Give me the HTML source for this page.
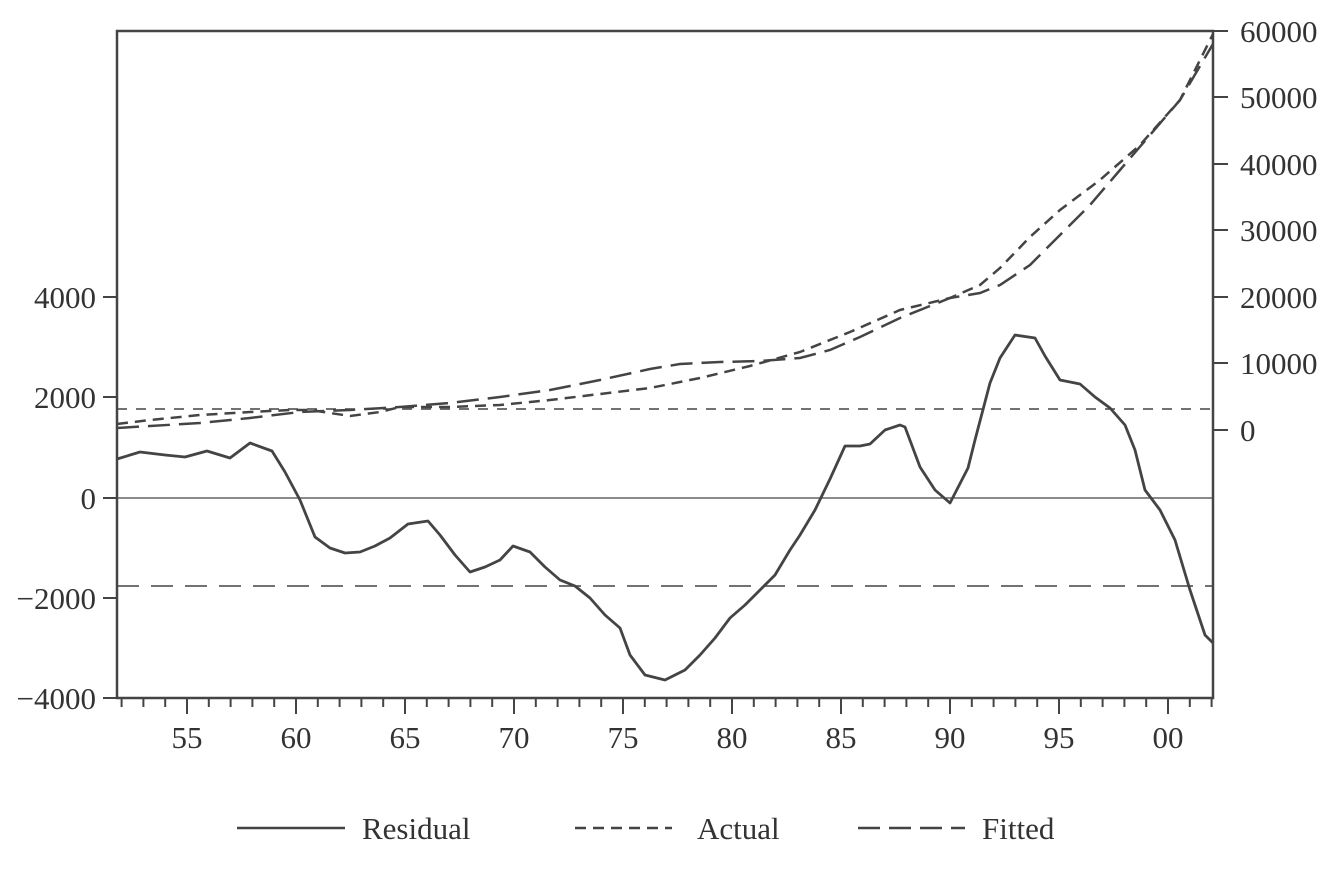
<!DOCTYPE html>
<html><head><meta charset="utf-8"><style>
html,body{margin:0;padding:0;background:#fff}
svg text{font-family:"Liberation Serif",serif;font-size:31px;fill:#333}
</style></head><body>
<svg width="1332" height="875" viewBox="0 0 1332 875" xmlns="http://www.w3.org/2000/svg">
<g stroke="#444" fill="none">
<rect x="117" y="31" width="1096" height="667" stroke-width="2.5"/>
<line x1="117" y1="498" x2="1213" y2="498" stroke-width="1.3"/>
<line x1="117" y1="409" x2="1213" y2="409" stroke-width="1.5" stroke-dasharray="10,9"/>
<line x1="117" y1="586" x2="1213" y2="586" stroke-width="1.5" stroke-dasharray="22,12"/>
<path d="M103 297H117M103 397H117M103 498H117M103 598H117M103 698H117" stroke-width="2"/>
<path d="M1213 31H1228M1213 97H1228M1213 164H1228M1213 230H1228M1213 297H1228M1213 363H1228M1213 430H1228" stroke-width="2"/>
<path stroke-width="2" d="M121.6 698v9M143.4 698v9M165.2 698v9M187 698v16M208.8 698v9M230.6 698v9M252.4 698v9M274.2 698v9M296 698v16M317.8 698v9M339.6 698v9M361.4 698v9M383.2 698v9M405 698v16M426.8 698v9M448.6 698v9M470.4 698v9M492.2 698v9M514 698v16M535.8 698v9M557.6 698v9M579.4 698v9M601.2 698v9M623 698v16M644.8 698v9M666.6 698v9M688.4 698v9M710.2 698v9M732 698v16M753.8 698v9M775.6 698v9M797.4 698v9M819.2 698v9M841 698v16M862.8 698v9M884.6 698v9M906.4 698v9M928.2 698v9M950 698v16M971.8 698v9M993.6 698v9M1015.4 698v9M1037.2 698v9M1059 698v16M1080.8 698v9M1102.6 698v9M1124.4 698v9M1146.2 698v9M1168 698v16M1189.8 698v9M1211.6 698v9"/>
<polyline stroke-width="2.5" stroke-dasharray="11,7" points="117,424 150,420 200,415 250,412 290,410 310,410 330,413 350,416 380,412 400,407 450,407 500,405 550,400 600,394 650,388 700,378 750,366 800,352 850,332 900,310 950,298 980,285 1000,268 1030,237 1060,210 1100,180 1140,145 1180,100 1213,34"/>
<polyline stroke-width="2.5" stroke-dasharray="22,9" points="117,428 200,423 250,418 300,412 350,410 400,407 450,403 500,397 550,390 600,380 650,369 680,364 720,362 760,361 800,358 830,350 860,337 900,318 950,298 980,293 1000,285 1030,265 1060,235 1090,205 1120,170 1150,135 1180,100 1213,44"/>
<polyline stroke-width="2.8" stroke-linejoin="round" points="117,459 140,452 165,455 185,457 207,451 230,458 250,443 272,451 285,472 300,500 315,537 330,548 345,553 360,552 375,546 390,538 408,524 428,521 440,535 455,555 470,572 485,567 500,560 513,546 530,552 545,567 560,580 575,586 590,598 605,615 620,628 630,655 645,675 665,680 685,670 700,655 715,638 730,618 745,605 760,590 775,575 790,550 800,535 815,510 830,479 845,446 860,446 870,444 885,430 900,425 905,427 920,467 935,490 950,503 968,468 975,440 990,383 1000,358 1015,335 1035,338 1045,356 1060,380 1080,384 1095,397 1110,408 1125,425 1135,450 1145,490 1160,510 1175,540 1190,590 1205,635 1213,643"/>
<line x1="237" y1="828" x2="345" y2="828" stroke-width="2.5"/>
<line x1="575" y1="828" x2="672" y2="828" stroke-width="2.5" stroke-dasharray="11,7"/>
<line x1="858" y1="828" x2="965" y2="828" stroke-width="2.5" stroke-dasharray="22,9"/>
</g>
<g text-anchor="end" style="font-size:32px">
<text x="96" y="308">4000</text>
<text x="96" y="408">2000</text>
<text x="96" y="509">0</text>
<text x="96" y="609">−2000</text>
<text x="96" y="709">−4000</text>
</g>
<g style="font-size:32px">
<text x="1240" y="42">60000</text>
<text x="1240" y="108">50000</text>
<text x="1240" y="175">40000</text>
<text x="1240" y="241">30000</text>
<text x="1240" y="308">20000</text>
<text x="1240" y="374">10000</text>
<text x="1240" y="441">0</text>
</g>
<g text-anchor="middle" style="font-size:32px">
<text x="187" y="748">55</text><text x="296" y="748">60</text><text x="405" y="748">65</text><text x="514" y="748">70</text><text x="623" y="748">75</text><text x="732" y="748">80</text><text x="841" y="748">85</text><text x="950" y="748">90</text><text x="1059" y="748">95</text><text x="1168" y="748">00</text>
</g>
<text x="362" y="839">Residual</text>
<text x="697" y="839">Actual</text>
<text x="982" y="839">Fitted</text>
</svg>
</body></html>
